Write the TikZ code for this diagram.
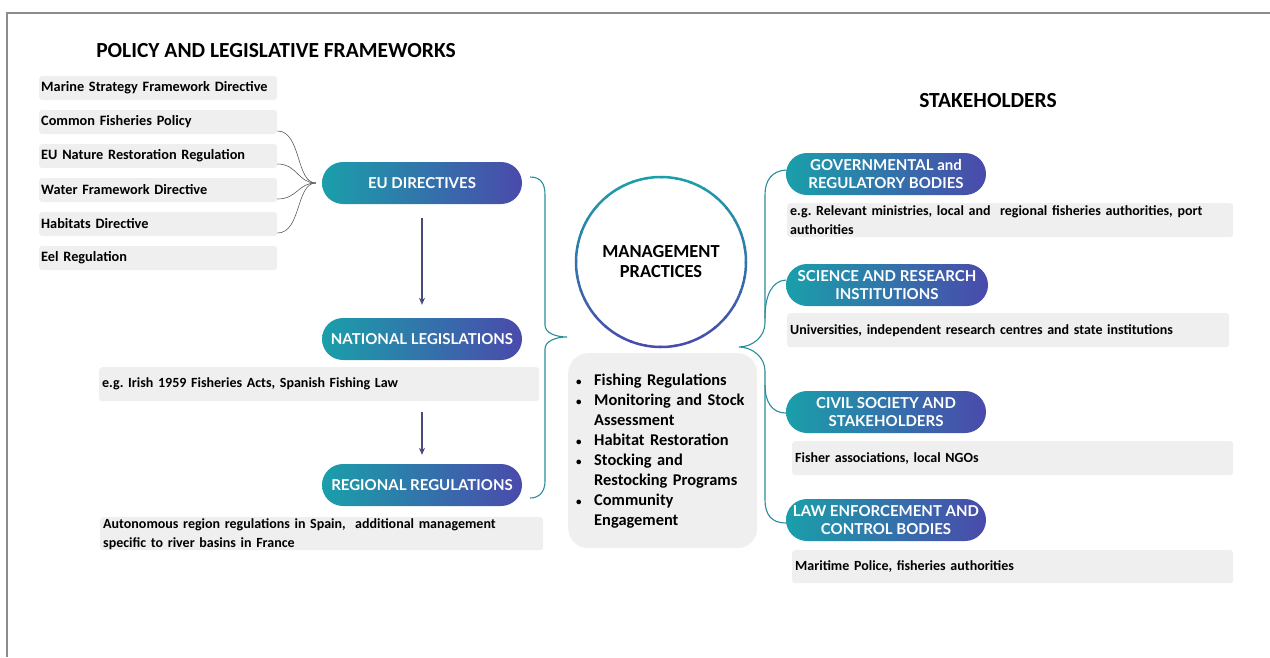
\documentclass[tikz,border=0pt]{standalone}
\usepackage{fontspec}
\setmainfont{Carlito}
\newfontfamily\pillfont{Lato}
\usetikzlibrary{positioning,arrows.meta}

\definecolor{pillA}{HTML}{1A9FAA}
\definecolor{pillB}{HTML}{4A4AAB}
\definecolor{boxgray}{HTML}{EFEFEF}
\definecolor{framegray}{HTML}{8C8C8C}
\definecolor{bracecol}{HTML}{2A8C9C}
\definecolor{arrowcol}{HTML}{4B4B7A}

\tikzset{
  pill/.style={rounded corners=21pt, left color=pillA, right color=pillB, text=white,
    font=\pillfont\bfseries\fontsize{15}{18}\selectfont, minimum width=200pt,
    minimum height=42pt, align=center, inner sep=0pt},
  item/.style={fill=boxgray, rounded corners=3pt, anchor=west, minimum height=24pt,
    text width=234pt, inner xsep=2pt, align=left, font=\bfseries\fontsize{14.3}{16}\selectfont},
  descr/.style={fill=boxgray, rounded corners=3pt, anchor=north west, inner xsep=3pt,
    inner ysep=0pt, align=left, font=\bfseries\fontsize{14}{19}\selectfont},
  heading/.style={font=\bfseries\fontsize{21.5}{24}\selectfont},
  feed/.style={draw=black!65, line width=0.6pt},
  brace/.style={draw=bracecol, line width=1.1pt},
  down/.style={-{Stealth[length=7pt,width=6pt]}, draw=arrowcol, line width=1.3pt}
}
\newcommand{\blt}{\makebox[18pt][l]{\fontsize{11}{11}\selectfont•}}

\begin{document}
\frenchspacing
\begin{tikzpicture}[x=1pt,y=-1pt]
\useasboundingbox (0,0) rectangle (1270,657);
\draw[framegray, line width=1.5pt] (7,657) -- (7,13) -- (1270,13);

% headings
\node[heading] (policy) at (276,51) {POLICY AND LEGISLATIVE FRAMEWORKS};
\node[heading] (stake) at (988,101) {STAKEHOLDERS};

% frameworks list
\node[item] (msfd) at (39,88) {Marine Strategy Framework Directive};
\node[item] (cfp) at (39,122) {Common Fisheries Policy};
\node[item] (nrr) at (39,156) {EU Nature Restoration Regulation};
\node[item] (wfd) at (39,190) {Water Framework Directive};
\node[item] (hd) at (39,224) {Habitats Directive};
\node[item] (eel) at (39,258) {Eel Regulation};

% legislative levels
\node[pill] (eu) at (422,183) {EU DIRECTIVES};
\node[pill] (national) at (422,339) {NATIONAL LEGISLATIONS};
\node[pill] (regional) at (422,485) {REGIONAL REGULATIONS};

\node[descr, text width=434pt, minimum height=34pt] (irish) at (99,367)
  {e.g. Irish 1959 Fisheries Acts, Spanish Fishing Law};
\node[descr, text width=437pt, minimum height=33pt] (auto) at (100,517)
  {Autonomous region regulations in Spain,\ \ additional management\\specific to river basins in France};

\draw[feed] ([yshift=-9pt]cfp.east) .. controls +(24,0) and +(-20,0) .. ([xshift=-6pt]eu.west);
\draw[feed] ([yshift=-8pt]nrr.east) .. controls +(20,0) and +(-18,0) .. ([xshift=-6pt]eu.west);
\draw[feed] ([yshift=-9pt]wfd.east) .. controls +(20,0) and +(-18,0) .. ([xshift=-6pt]eu.west);
\draw[feed] ([yshift=-9pt]hd.east) .. controls +(24,0) and +(-20,0) .. ([xshift=-6pt]eu.west);

\draw[down] ([yshift=-14pt]eu.south) -- ([yshift=13pt]national.north);
\draw[down] ([yshift=-11pt]national.south |- irish.south) -- ([yshift=9pt]regional.north);

% management practices
\node[circle, minimum size=170pt, align=center, font=\bfseries\fontsize{18.4}{20}\selectfont]
  (mp) at (661,262) {MANAGEMENT\\PRACTICES};
\foreach \a in {0,10,...,350} {
  \pgfmathtruncatemacro\p{50+50*sin(\a+5)}
  \draw[line width=2.5pt, color=pillB!\p!pillA] (mp.center) ++(\a:85) arc[start angle=\a, end angle=\a+11, radius=85];
}

\node[fill=boxgray, rounded corners=20pt, anchor=north west, minimum width=189pt,
  minimum height=195pt, text width=173pt, inner xsep=8pt, align=left,
  font=\bfseries\fontsize{16.4}{20}\selectfont] (acts) at (568,353)
  {\blt Fishing Regulations\\
   \blt Monitoring and Stock\\
   \hspace*{18pt}Assessment\\
   \blt Habitat Restoration\\
   \blt Stocking and\\
   \hspace*{18pt}Restocking Programs\\
   \blt Community\\
   \hspace*{18pt}Engagement};

% stakeholders
\node[pill] (gov) at (886,174) {GOVERNMENTAL and\\REGULATORY BODIES};
\node[pill, minimum width=202pt] (sci) at (887,285) {SCIENCE AND RESEARCH\\INSTITUTIONS};
\node[pill] (civ) at (886,412) {CIVIL SOCIETY AND\\STAKEHOLDERS};
\node[pill] (law) at (886,520) {LAW ENFORCEMENT AND\\CONTROL BODIES};

\node[descr, text width=440pt, minimum height=34pt] (govd) at (787,203)
  {e.g. Relevant ministries, local and\ \ regional fisheries authorities, port\\authorities};
\node[descr, text width=436pt, minimum height=34pt] (scid) at (787,313)
  {Universities, independent research centres and state institutions};
\node[descr, text width=435pt, minimum height=34pt] (civd) at (792,441)
  {Fisher associations, local NGOs};
\node[descr, text width=435pt, minimum height=33pt] (lawd) at (792,550)
  {Maritime Police, fisheries authorities};

% braces
\coordinate (ltip) at (567,337);
\draw[brace] ([xshift=8pt,yshift=6pt]eu.east) .. controls (541,177) and (545,184) .. (545,195)
  -- (545,325) .. controls (545,333) and (556,337) .. (ltip)
  .. controls (556,337) and (545,341) .. (545,349)
  -- (545,481) .. controls (545,492) and (539,498) .. ([xshift=8pt,yshift=-13pt]regional.east);

\coordinate (rtip) at (739,347);
\coordinate (rsci) at (765,318);
\coordinate (rciv) at (765,385);
\draw[brace] ([yshift=4pt]gov.west) .. controls (772,171) and (765,180) .. (765,195)
  -- (765,323) .. controls (765,337) and (752,347) .. (rtip)
  .. controls (752,347) and (765,357) .. (765,371)
  -- (765,500) .. controls (765,515) and (772,523) .. ([yshift=-3pt]law.west);
\draw[brace] (rsci) .. controls (765,295) and (772,281) .. ([yshift=5pt]sci.west);
\draw[brace] (rciv) .. controls (765,402) and (772,413) .. ([yshift=-1pt]civ.west);
\end{tikzpicture}
\end{document}
